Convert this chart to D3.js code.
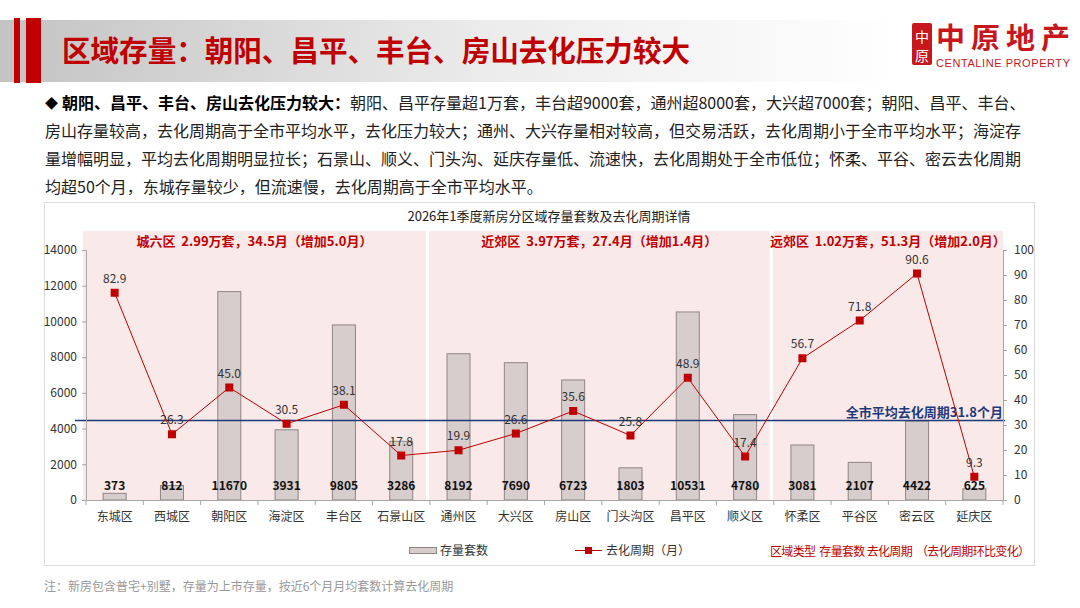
<!DOCTYPE html>
<html lang="zh">
<head>
<meta charset="UTF-8">
<title>区域存量</title>
<script src="https://d3js.org/d3.v7.min.js"></script>
<style>
  body { margin: 0; background: #fff; }
  svg { display: block; font-family: "Noto Sans CJK SC", "Noto Sans", sans-serif; }
  .pre { white-space: pre; }
</style>
</head>
<body>
<svg width="1080" height="608"></svg>
<script>
// 数据
const districts = ["东城区", "西城区", "朝阳区", "海淀区", "丰台区", "石景山区", "通州区", "大兴区",
                   "房山区", "门头沟区", "昌平区", "顺义区", "怀柔区", "平谷区", "密云区", "延庆区"];
const stock = [373, 812, 11670, 3931, 9805, 3286, 8192, 7690, 6723, 1803, 10531, 4780, 3081, 2107, 4422, 625];
const cycle = [82.9, 26.3, 45.0, 30.5, 38.1, 17.8, 19.9, 26.6, 35.6, 25.8, 48.9, 17.4, 56.7, 71.8, 90.6, 9.3];
const regionNames = ["城六区", "近郊区", "远郊区"];
const regionStart = [0, 6, 12];
const regionEnd = [5, 11, 15];
const regionLabels = ["城六区  2.99万套，34.5月（增加5.0月）",
                      "近郊区  3.97万套，27.4月（增加1.4月）",
                      "远郊区  1.02万套，51.3月（增加2.0月）"];
const cityAvg = 31.8;
const leftTicks = [0, 2000, 4000, 6000, 8000, 10000, 12000, 14000];
const rightTicks = [0, 10, 20, 30, 40, 50, 60, 70, 80, 90, 100];

const red = "#c00000";
const svg = d3.select("svg");

// 标题栏
const defs = svg.append("defs");
const grad = defs.append("linearGradient").attr("id", "band").attr("x1", "0").attr("x2", "1");
grad.append("stop").attr("offset", "0").attr("stop-color", "#c3c3c3");
grad.append("stop").attr("offset", "0.55").attr("stop-color", "#ececec");
grad.append("stop").attr("offset", "1").attr("stop-color", "#ffffff");
svg.append("rect").attr("x", 0).attr("y", 20).attr("width", 900).attr("height", 62).attr("fill", "url(#band)");
svg.append("rect").attr("x", 14).attr("y", 18).attr("width", 6).attr("height", 65).attr("fill", red);
svg.append("rect").attr("x", 26).attr("y", 18).attr("width", 15).attr("height", 65).attr("fill", red);
svg.append("text").attr("x", 62).attr("y", 62)
  .attr("font-size", 29).attr("font-weight", "bold").attr("fill", red)
  .attr("textLength", 628).attr("lengthAdjust", "spacingAndGlyphs")
  .text("区域存量：朝阳、昌平、丰台、房山去化压力较大");

// logo
svg.append("rect").attr("x", 912).attr("y", 23).attr("width", 20).attr("height", 42).attr("rx", 2).attr("fill", "#c8161d");
svg.append("text").attr("x", 922).attr("y", 42).attr("text-anchor", "middle").attr("font-size", 14).attr("fill", "#fff").text("中");
svg.append("text").attr("x", 922).attr("y", 61).attr("text-anchor", "middle").attr("font-size", 14).attr("fill", "#fff").text("原");
svg.append("text").attr("x", 936).attr("y", 49).attr("font-size", 29).attr("font-weight", "bold")
  .attr("fill", "#c8161d").attr("textLength", 134).text("中原地产");
svg.append("text").attr("x", 936).attr("y", 67).attr("font-size", 11).attr("fill", "#c8161d")
  .attr("font-family", "Liberation Sans, Arial, sans-serif").attr("textLength", 134).text("CENTALINE PROPERTY");

// 说明文字
const para = [
  "朝阳、昌平存量超1万套，丰台超9000套，通州超8000套，大兴超7000套；朝阳、昌平、丰台、",
  "房山存量较高，去化周期高于全市平均水平，去化压力较大；通州、大兴存量相对较高，但交易活跃，去化周期小于全市平均水平；海淀存",
  "量增幅明显，平均去化周期明显拉长；石景山、顺义、门头沟、延庆存量低、流速快，去化周期处于全市低位；怀柔、平谷、密云去化周期",
  "均超50个月，东城存量较少，但流速慢，去化周期高于全市平均水平。"
];
svg.append("text").attr("x", 45).attr("y", 108).attr("font-size", 13).attr("fill", "#000").text("◆");
const l1 = svg.append("text").attr("x", 62).attr("y", 109).attr("font-size", 16).attr("fill", "#222");
l1.append("tspan").attr("font-weight", "bold").attr("fill", "#000").text("朝阳、昌平、丰台、房山去化压力较大：");
l1.append("tspan").text(para[0]);
para.slice(1).forEach((t, i) => {
  svg.append("text").attr("x", 45).attr("y", 137 + i * 28).attr("font-size", 16).attr("fill", "#222").text(t);
});

// 图表外框
svg.append("rect").attr("x", 44.5).attr("y", 202.5).attr("width", 990).attr("height", 363)
  .attr("fill", "#fff").attr("stroke", "#dcdcdc");
svg.append("text").attr("x", 549).attr("y", 221).attr("text-anchor", "middle")
  .attr("font-size", 13).attr("fill", "#222").text("2026年1季度新房分区域存量套数及去化周期详情");

// 比例尺
const x = d3.scaleBand().domain(districts).range([86, 1003]);
const yL = d3.scaleLinear().domain([0, 14000]).range([500, 250]);
const yR = d3.scaleLinear().domain([0, 100]).range([500, 250]);
const step = x.step();

// 区域背景
const regions = regionNames.map((n, i) => ({ name: n, s: regionStart[i], e: regionEnd[i], label: regionLabels[i] }));
const rx0 = (d, i) => i === 0 ? 83 : x(districts[d.s]) - 1;
const rx1 = (d, i) => i === 2 ? 1003 : x(districts[d.e]) + step - 4;
svg.append("g").selectAll("rect").data(regions).join("rect")
  .attr("x", rx0)
  .attr("width", (d, i) => rx1(d, i) - rx0(d, i))
  .attr("y", 231).attr("height", 500 - 231)
  .attr("fill", "#f9e9e9");

// 柱
svg.append("g").selectAll("rect").data(stock).join("rect")
  .attr("x", (d, i) => x(districts[i]) + step / 2 - 11.5)
  .attr("width", 23)
  .attr("y", d => yL(d))
  .attr("height", d => 500 - yL(d))
  .attr("fill", "#d8cdcd").attr("stroke", "#908585").attr("stroke-width", 1);

// 柱标签
svg.append("g").selectAll("text").data(stock).join("text")
  .attr("x", (d, i) => x(districts[i]) + step / 2)
  .attr("y", 490)
  .attr("text-anchor", "middle").attr("font-size", 12).attr("font-weight", "bold").attr("fill", "#111")
  .text(d => d);

// 区域标签
svg.append("g").selectAll("text").data(regions).join("text")
  .attr("class", "pre")
  .attr("x", (d, i) => (rx0(d, i) + rx1(d, i)) / 2)
  .attr("y", 246)
  .attr("text-anchor", "middle").attr("font-size", 13).attr("font-weight", "bold").attr("fill", red)
  .text(d => d.label);

// 全市平均线
svg.append("line").attr("x1", 75).attr("x2", 1005)
  .attr("y1", yR(cityAvg)).attr("y2", yR(cityAvg))
  .attr("stroke", "#1f3a7a").attr("stroke-width", 1.5);
svg.append("text").attr("x", 1003).attr("y", yR(cityAvg) - 4).attr("text-anchor", "end")
  .attr("font-size", 13).attr("font-weight", "bold").attr("fill", "#1f3a7a")
  .text("全市平均去化周期" + cityAvg + "个月");

// 去化周期折线
const line = d3.line()
  .x((d, i) => x(districts[i]) + step / 2)
  .y(d => yR(d));
svg.append("path").datum(cycle).attr("d", line)
  .attr("fill", "none").attr("stroke", red).attr("stroke-width", 1);
svg.append("g").selectAll("rect").data(cycle).join("rect")
  .attr("x", (d, i) => x(districts[i]) + step / 2 - 4)
  .attr("y", d => yR(d) - 4)
  .attr("width", 8).attr("height", 8).attr("fill", red);
svg.append("g").selectAll("text").data(cycle).join("text")
  .attr("x", (d, i) => x(districts[i]) + step / 2)
  .attr("y", d => yR(d) - 10)
  .attr("text-anchor", "middle").attr("font-size", 12).attr("fill", "#333")
  .text(d => d.toFixed(1));

// 坐标轴
const axisColor = "#a6a6a6";
const gL = svg.append("g").attr("transform", "translate(86,0)")
  .call(d3.axisLeft(yL).tickValues(leftTicks).tickFormat(d3.format("d")).tickSize(4).tickPadding(5));
const gR = svg.append("g").attr("transform", "translate(1003,0)")
  .call(d3.axisRight(yR).tickValues(rightTicks).tickSize(4).tickPadding(7));
const gX = svg.append("g").attr("transform", "translate(0,500)")
  .call(d3.axisBottom(x).tickSize(0).tickPadding(12));
[gL, gR, gX].forEach(g => {
  g.select(".domain").attr("stroke", axisColor);
  g.selectAll(".tick line").attr("stroke", axisColor);
  g.selectAll(".tick text").attr("font-size", 12).attr("fill", "#333")
    .attr("font-family", "Noto Sans CJK SC, sans-serif");
});
// 分类边界刻度
svg.append("g").selectAll("line").data(d3.range(districts.length + 1)).join("line")
  .attr("x1", i => 86 + i * step).attr("x2", i => 86 + i * step)
  .attr("y1", 500).attr("y2", 505).attr("stroke", axisColor);

// 图例
svg.append("rect").attr("x", 409.5).attr("y", 547.5).attr("width", 27).attr("height", 6)
  .attr("fill", "#d8cdcd").attr("stroke", "#908585");
svg.append("text").attr("x", 440).attr("y", 555).attr("font-size", 12).attr("fill", "#333").text("存量套数");
svg.append("line").attr("x1", 575).attr("x2", 602).attr("y1", 550.5).attr("y2", 550.5).attr("stroke", red);
svg.append("rect").attr("x", 585).attr("y", 547).attr("width", 7).attr("height", 7).attr("fill", red);
svg.append("text").attr("x", 606).attr("y", 555).attr("font-size", 12).attr("fill", "#333").text("去化周期（月）");
svg.append("text").attr("class", "pre").attr("x", 770).attr("y", 556).attr("font-size", 12).attr("fill", red)
  .attr("textLength", 260).text("区域类型  存量套数 去化周期  （去化周期环比变化）");

// 注
svg.append("text").attr("x", 44).attr("y", 591).attr("font-size", 12).attr("fill", "#999")
  .text("注：新房包含普宅+别墅，存量为上市存量，按近6个月月均套数计算去化周期");
</script>
</body>
</html>
